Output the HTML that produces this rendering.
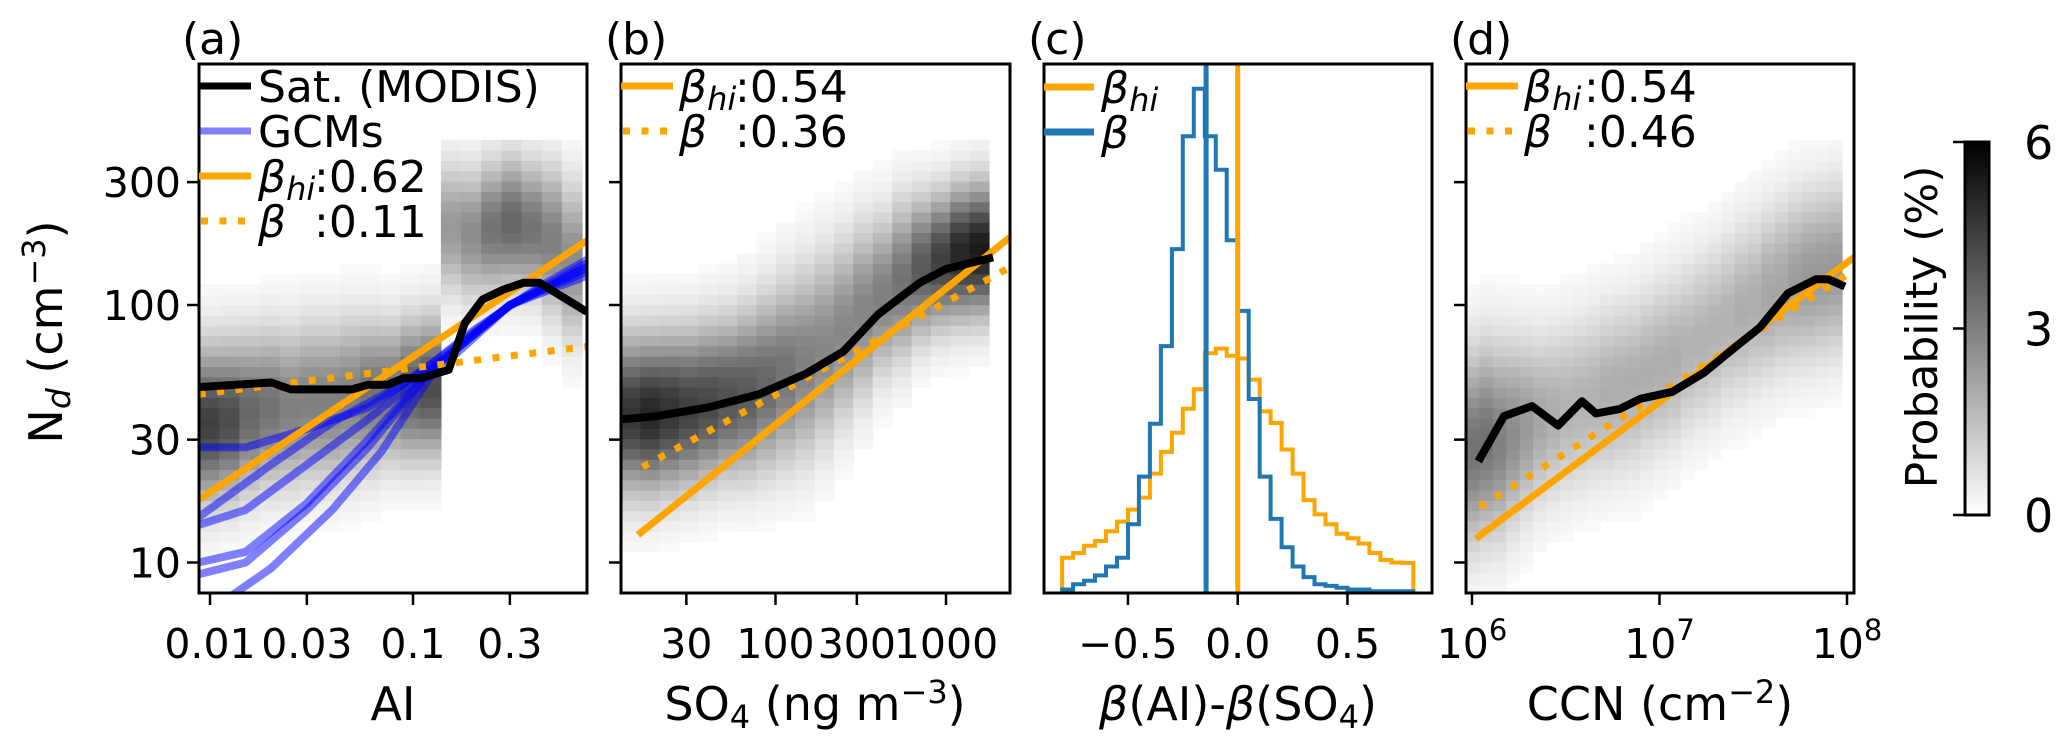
<!DOCTYPE html>
<html><head><meta charset="utf-8"><title>Nd vs aerosol proxies</title>
<style>
html,body{margin:0;padding:0;background:#fff;}
svg{display:block;font-family:"DejaVu Sans","Liberation Sans",sans-serif;}
</style></head>
<body>
<svg id="fig" xmlns="http://www.w3.org/2000/svg" width="2067" height="754" viewBox="0 0 2067 754">
<defs>
<clipPath id="clipA"><rect x="199" y="64" width="388" height="529"/></clipPath>
<clipPath id="clipB"><rect x="621" y="64" width="389" height="529"/></clipPath>
<clipPath id="clipC"><rect x="1044" y="64" width="388" height="529"/></clipPath>
<clipPath id="clipD"><rect x="1466" y="64" width="388" height="529"/></clipPath>
<linearGradient id="cbGrad" x1="0" y1="1" x2="0" y2="0"><stop offset="0" stop-color="#fff"/><stop offset="1" stop-color="#000"/></linearGradient>
</defs>
</svg>
<script>
// ---------- DATA ----------
// Panel (a): AI vs Nd
const aHeatCenters = [35,36,38,40,40,42,42,44,45,46,47,48,200,190,200,210,200,180,150];
const aHeatSigma   = [0.2,0.2,0.2,0.2,0.2,0.2,0.2,0.2,0.19,0.18,0.18,0.18,0.17,0.17,0.17,0.17,0.17,0.19,0.2];
const aHeatPeak    = [0.75,0.7,0.6,0.55,0.5,0.5,0.5,0.5,0.55,0.55,0.65,0.7,0.4,0.45,0.55,0.6,0.55,0.5,0.45];
const aSatX = [0.0088,0.02,0.025,0.05,0.06,0.075,0.09,0.11,0.15,0.18,0.22,0.28,0.35,0.42,0.72];
const aSatY = [48,50,47,47,49,49,52,52,56,85,105,115,122,122,94];
const aHiX = [0.0088,0.72], aHiY = [17.5,178];
const aBetaX = [0.0088,0.72], aBetaY = [45,69];
const gcmX = [
 [0.0088,0.015,0.03,0.06,0.1,0.2,0.4,0.72],
 [0.0088,0.02,0.04,0.08,0.12,0.3,0.72],
 [0.0088,0.015,0.03,0.06,0.12,0.3,0.72],
 [0.0088,0.015,0.03,0.06,0.12,0.3,0.72],
 [0.0088,0.015,0.03,0.06,0.12,0.3,0.72],
 [0.013,0.02,0.04,0.07,0.12,0.3,0.72]];
const gcmY = [
 [28,28,33,40,52,80,115,150],
 [15,24,35,47,58,100,140],
 [14,16,24,36,56,100,145],
 [10,11,17,30,55,100,135],
 [9,10,16,28,55,100,130],
 [7.5,9.5,16,27,52,100,140]];
// Panel (b): SO4 vs Nd
const bHeatCenters = [38,38,39,40,42,44,46,50,55,60,68,80,95,110,125,140,150,160,165];
const bHeatSigma   = [0.2,0.2,0.2,0.2,0.2,0.2,0.21,0.22,0.23,0.24,0.24,0.23,0.22,0.2,0.2,0.18,0.17,0.17,0.17];
const bHeatPeak    = [0.8,0.85,0.8,0.75,0.72,0.68,0.65,0.6,0.55,0.5,0.47,0.47,0.48,0.5,0.55,0.65,0.75,0.85,0.9];
const bSatX = [12.4,20,40,80,150,250,400,700,1000,1890];
const bSatY = [36,37,40,45,54,66,92,122,138,153];
const bHiX = [15.6,2370], bHiY = [12.8,183];
const bBetaX = [16.6,2370], bBetaY = [23.5,140];
// Panel (c): histogram of beta differences
const cBinStart = -0.8, cBinWidth = 0.05;
const cBlue = [0.02,0.05,0.07,0.1,0.15,0.2,0.39,0.66,0.96,1.4,1.95,2.59,2.86,2.59,2.4,2.0,1.6,1.1,0.66,0.42,0.26,0.15,0.09,0.05,0.04,0.03,0.02,0.02,0.01,0.01,0.01,0.01];
const cOrange = [0.2,0.227,0.268,0.295,0.35,0.405,0.473,0.541,0.677,0.8,0.909,1.045,1.155,1.36,1.386,1.345,1.33,1.21,1.03,0.964,0.814,0.677,0.527,0.446,0.39,0.336,0.31,0.28,0.227,0.187,0.173,0.17];
const cBlueMean = -0.144, cOrangeMean = 0.0;
// Panel (d): CCN vs Nd
const dHeatCenters = [28,30,30,32,34,36,38,40,42,44,46,48,50,54,58,62,68,74,80,88,95,102,110,118,125,130,135,140];
const dHeatSigma   = [0.25,0.25,0.25,0.24,0.23,0.22,0.22,0.22,0.22,0.22,0.22,0.22,0.22,0.22,0.22,0.22,0.22,0.22,0.22,0.22,0.22,0.22,0.22,0.22,0.22,0.22,0.22,0.22];
const dHeatPeak    = [0.55,0.55,0.5,0.45,0.4,0.35,0.32,0.3,0.3,0.3,0.32,0.32,0.32,0.32,0.32,0.32,0.3,0.3,0.3,0.3,0.32,0.32,0.35,0.35,0.38,0.4,0.4,0.4];
const dSatX = [1.08e6,1.48e6,2.09e6,2.88e6,3.86e6,4.58e6,6.15e6,7.87e6,1.17e7,1.73e7,2.56e7,3.44e7,4.84e7,6.84e7,7.93e7,9.75e7];
const dSatY = [24.7,37,40.5,34,42.3,37.9,39.5,43.2,46,54.6,69,82,111,126,126,118];
const dHiX = [1.05e6,1.09e8], dHiY = [12.4,153];
const dBetaX = [1.1e6,1.07e8], dBetaY = [16.4,135];
// Tick labels
const yTicks = [10,30,100,300];
const aTicks = [0.01,0.03,0.1,0.3], aTickLabels = ["0.01","0.03","0.1","0.3"];
const bTicks = [30,100,300,1000], bTickLabels = ["30","100","300","1000"];
const cTicks = [-0.5,0,0.5], cTickLabels = ["\u22120.5","0.0","0.5"];
const dTicks = [1e6,1e7,1e8], dTickExp = ["6","7","8"];
const cbTicks = [0,3,6];

// ---------- SCALES ----------
const L = Math.log10;
const yN = v => 305 - (L(v) - 2) * 257.5;
const xa = v => 210 + (L(v) + 2) * 203;
const xb = v => 775.5 + (L(v) - 2) * 170.5;
const xc = v => 1237.7 + v * 219.5;
const xd = v => 1472 + (L(v) - 6) * 187.5;
const yc = v => 593 - v / 3 * 529;
const cbY = v => 515 - v / 6 * 373;

const NS = "http://www.w3.org/2000/svg";
const svg = document.getElementById('fig');
function mk(tag, attrs, parent) {
  const e = document.createElementNS(NS, tag);
  for (const k in attrs) e.setAttribute(k, attrs[k]);
  (parent || svg).appendChild(e);
  return e;
}
function pathFrom(xs, ys, fx) {
  return xs.map((x, i) => (i ? 'L' : 'M') + fx(x).toFixed(1) + ',' + yN(ys[i]).toFixed(1)).join('');
}
const ORANGE = '#ffa500';
const TICKF = 41, LEGF = 44, AXF = 46;

function heat(parent, x0, x1, centers, sig, peak, name) {
  const n = centers.length, cw = (x1 - x0) / n;
  const rowH = 10.3, yTop = yN(400);
  for (let c = 0; c < n; c++) {
    for (let y = 593 - rowH; y > yTop - rowH; y -= rowH) {
      const ym = y + rowH / 2;
      const lv = 2 - (ym - 305) / 257.5;
      const d = (lv - L(centers[c])) / sig[c];
      const v = peak[c] * Math.exp(-0.5 * d * d);
      if (v < 0.02) continue;
      const g = Math.round(255 * (1 - Math.min(1, v)));
      const r = mk('rect', {x: (x0 + c * cw).toFixed(1), y: y.toFixed(1), width: (cw + 0.6).toFixed(1), height: (rowH + 0.6).toFixed(1), fill: `rgb(${g},${g},${g})`}, parent);
      
      
    }
  }
}
function frame(x0, x1, name) {
  const r = mk('rect', {x: x0, y: 64, width: x1 - x0, height: 529, fill: 'none', stroke: '#000', 'stroke-width': 3});
  
  
}
function yTicksDraw(x0, labels, name) {
  yTicks.forEach(t => {
    const l = mk('line', {x1: x0 - 12, x2: x0, y1: yN(t), y2: yN(t), stroke: '#000', 'stroke-width': 2.5});
    
    
    if (labels) {
      const tx = mk('text', {x: x0 - 18, y: yN(t) + 15, 'font-size': TICKF, 'text-anchor': 'end'});
      
      
      tx.textContent = String(t);
    }
  });
}
function xTickDraw(vals, fx, name) {
  vals.forEach(v => {
    const l = mk('line', {x1: fx(v), x2: fx(v), y1: 593, y2: 605, stroke: '#000', 'stroke-width': 2.5});
    
    
  });
}
function xLabels(vals, labels, fx) {
  vals.forEach((v, i) => {
    const t = mk('text', {x: fx(v), y: 658, 'font-size': TICKF, 'text-anchor': 'middle'});
    
    
    t.textContent = labels[i];
  });
}
function legendLine(x0, x1, y, color, dashed, name) {
  const l = mk('line', {x1: x0, x2: x1, y1: y, y2: y, stroke: color, 'stroke-width': 7, 'stroke-dasharray': dashed ? '7 11.5' : 'none'});
  
  
}
function legendText(x, y, html, name) {
  const t = mk('text', {x: x, y: y + 16, 'font-size': LEGF});
  
  
  t.innerHTML = html;
}
function betaLegend(lx0, lx1, tx, colonX, y1, y2, hiVal, betaVal, pfx) {
  legendLine(lx0, lx1, y1, ORANGE, false, pfx + '-legend-beta-hi-line');
  legendText(tx, y1, '<tspan font-style="italic">β</tspan><tspan font-style="italic" font-size="32" dy="8">hi</tspan>', pfx + '-legend-beta-hi-symbol');
  legendText(colonX, y1, ':' + hiVal, pfx + '-legend-beta-hi-value');
  legendLine(lx0 + 2, lx1, y2, ORANGE, true, pfx + '-legend-beta-line');
  legendText(tx, y2, '<tspan font-style="italic">β</tspan>', pfx + '-legend-beta-symbol');
  legendText(colonX, y2, ':' + betaVal, pfx + '-legend-beta-value');
}
function panelLabel(x, s, name) {
  const t = mk('text', {x: x, y: 54, 'font-size': 44});
  
  
  t.textContent = s;
}
function axisLabel(x, html, name) {
  const t = mk('text', {x: x, y: 720, 'font-size': AXF, 'text-anchor': 'middle'});
  
  
  t.innerHTML = html;
}

// ---------- PANEL A ----------
const gA = mk('g', {'clip-path': 'url(#clipA)'});


heat(gA, 199, 582, aHeatCenters, aHeatSigma, aHeatPeak, 'panel-a-heat-cell');
gcmX.forEach((xs, i) => {
  const p = mk('path', {d: pathFrom(xs, gcmY[i], xa), fill: 'none', stroke: 'rgba(0,0,255,0.5)', 'stroke-width': 8, 'stroke-linejoin': 'round'}, gA);
  
  
});
let e;
e = mk('path', {d: pathFrom(aHiX, aHiY, xa), stroke: ORANGE, 'stroke-width': 7, fill: 'none'}, gA);


e = mk('path', {d: pathFrom(aBetaX, aBetaY, xa), stroke: ORANGE, 'stroke-width': 7, fill: 'none', 'stroke-dasharray': '7 11.5'}, gA);


e = mk('path', {d: pathFrom(aSatX, aSatY, xa), stroke: '#000', 'stroke-width': 8, fill: 'none', 'stroke-linejoin': 'round'}, gA);


frame(199, 587, 'panel-a-frame');
yTicksDraw(199, true, 'panel-a-y');
xTickDraw(aTicks, xa, 'panel-a-x-tick');
xLabels(aTicks, aTickLabels, xa);
legendLine(199, 251, 86, '#000', false, 'legend-modis-line');
legendText(258, 86, 'Sat. (MODIS)', 'legend-modis-label');
e = mk('line', {x1: 199, x2: 251, y1: 131, y2: 131, stroke: 'rgba(0,0,255,0.5)', 'stroke-width': 7});


legendText(258, 131, 'GCMs', 'legend-gcm-label');
betaLegend(199, 251, 258, 314, 176, 221, '0.62', '0.11', 'panel-a');
panelLabel(182, '(a)', 'panel-a-label');
axisLabel(393, 'AI', 'panel-a-x-axis-title');
e = mk('text', {x: 0, y: 0, 'font-size': 46, 'text-anchor': 'middle', transform: 'translate(62,332) rotate(-90)'});


e.innerHTML = 'N<tspan font-style="italic" font-size="33" dy="8">d</tspan><tspan dy="-8"> (cm</tspan><tspan font-size="32" dy="-17">−3</tspan><tspan dy="17">)</tspan>';

// ---------- PANEL B ----------
const gB = mk('g', {'clip-path': 'url(#clipB)'});


heat(gB, 621, 989, bHeatCenters, bHeatSigma, bHeatPeak, 'panel-b-heat-cell');
e = mk('path', {d: pathFrom(bHiX, bHiY, xb), stroke: ORANGE, 'stroke-width': 7, fill: 'none'}, gB);


e = mk('path', {d: pathFrom(bBetaX, bBetaY, xb), stroke: ORANGE, 'stroke-width': 7, fill: 'none', 'stroke-dasharray': '7 11.5'}, gB);


e = mk('path', {d: pathFrom(bSatX, bSatY, xb), stroke: '#000', 'stroke-width': 8, fill: 'none', 'stroke-linejoin': 'round'}, gB);


frame(621, 1010, 'panel-b-frame');
yTicksDraw(621, false, 'panel-b-y');
xTickDraw(bTicks, xb, 'panel-b-x-tick');
xLabels(bTicks, bTickLabels, xb);
betaLegend(621, 673, 679, 735, 86, 131, '0.54', '0.36', 'panel-b');
panelLabel(605, '(b)', 'panel-b-label');
axisLabel(815, 'SO<tspan font-size="32" dy="8">4</tspan><tspan dy="-8">  (ng m</tspan><tspan font-size="32" dy="-17">−3</tspan><tspan dy="17">)</tspan>', 'panel-b-x-axis-title');

// ---------- PANEL C ----------
const gC = mk('g', {'clip-path': 'url(#clipC)'});


function stairs(vals) {
  let d = 'M' + xc(cBinStart).toFixed(1) + ',' + yc(0).toFixed(1);
  vals.forEach((v, i) => {
    const a = cBinStart + i * cBinWidth, b = a + cBinWidth;
    d += 'L' + xc(a).toFixed(1) + ',' + yc(v).toFixed(1) + 'L' + xc(b).toFixed(1) + ',' + yc(v).toFixed(1);
  });
  d += 'L' + xc(cBinStart + vals.length * cBinWidth).toFixed(1) + ',' + yc(0).toFixed(1);
  return d;
}
e = mk('path', {d: stairs(cOrange), stroke: ORANGE, 'stroke-width': 4, fill: 'none'}, gC);


e = mk('path', {d: stairs(cBlue), stroke: '#1f77b4', 'stroke-width': 4, fill: 'none'}, gC);


e = mk('line', {x1: xc(cBlueMean), x2: xc(cBlueMean), y1: 64, y2: 593, stroke: '#1f77b4', 'stroke-width': 5}, gC);


e = mk('line', {x1: xc(cOrangeMean), x2: xc(cOrangeMean), y1: 64, y2: 593, stroke: ORANGE, 'stroke-width': 5}, gC);


frame(1044, 1432, 'panel-c-frame');
xTickDraw(cTicks, xc, 'panel-c-x-tick');
xLabels(cTicks, cTickLabels, xc);
legendLine(1044, 1094, 87, ORANGE, false, 'panel-c-legend-beta-hi-line');
legendText(1101, 87, '<tspan font-style="italic">β</tspan><tspan font-style="italic" font-size="32" dy="8">hi</tspan>', 'panel-c-legend-beta-hi-label');
legendLine(1044, 1094, 132, '#1f77b4', false, 'panel-c-legend-beta-line');
legendText(1101, 132, '<tspan font-style="italic">β</tspan>', 'panel-c-legend-beta-label');
panelLabel(1028, '(c)', 'panel-c-label');
axisLabel(1238, '<tspan font-style="italic">β</tspan>(AI)-<tspan font-style="italic">β</tspan>(SO<tspan font-size="32" dy="8">4</tspan><tspan dy="-8">)</tspan>', 'panel-c-x-axis-title');

// ---------- PANEL D ----------
const gD = mk('g', {'clip-path': 'url(#clipD)'});


heat(gD, 1466, 1842, dHeatCenters, dHeatSigma, dHeatPeak, 'panel-d-heat-cell');
e = mk('path', {d: pathFrom(dHiX, dHiY, xd), stroke: ORANGE, 'stroke-width': 7, fill: 'none'}, gD);


e = mk('path', {d: pathFrom(dBetaX, dBetaY, xd), stroke: ORANGE, 'stroke-width': 7, fill: 'none', 'stroke-dasharray': '7 11.5'}, gD);


e = mk('path', {d: pathFrom(dSatX, dSatY, xd), stroke: '#000', 'stroke-width': 8, fill: 'none', 'stroke-linejoin': 'round'}, gD);


frame(1466, 1854, 'panel-d-frame');
yTicksDraw(1466, false, 'panel-d-y');
xTickDraw(dTicks, xd, 'panel-d-x-tick');
dTicks.forEach((v, i) => {
  const t = mk('text', {x: xd(v), y: 658, 'font-size': TICKF, 'text-anchor': 'middle'});
  
  
  t.innerHTML = '10<tspan font-size="29" dy="-18">' + dTickExp[i] + '</tspan>';
});
betaLegend(1466, 1518, 1524, 1584, 86, 131, '0.54', '0.46', 'panel-d');
panelLabel(1450, '(d)', 'panel-d-label');
axisLabel(1660, 'CCN (cm<tspan font-size="32" dy="-17">−2</tspan><tspan dy="17">)</tspan>', 'panel-d-x-axis-title');

// ---------- COLORBAR ----------
e = mk('rect', {x: 1965, y: 142, width: 24, height: 373, fill: 'url(#cbGrad)', stroke: '#000', 'stroke-width': 3});


cbTicks.forEach(t => {
  const l = mk('line', {x1: 1953, x2: 1965, y1: cbY(t), y2: cbY(t), stroke: '#000', 'stroke-width': 2.5});
  
  
  const tx = mk('text', {x: 2024, y: cbY(t) + 17, 'font-size': 46});
  
  
  tx.textContent = String(t);
});
e = mk('text', {x: 0, y: 0, 'font-size': 44, 'text-anchor': 'middle', transform: 'translate(1937,327) rotate(-90)'});


e.textContent = 'Probability (%)';
</script>
</body></html>
